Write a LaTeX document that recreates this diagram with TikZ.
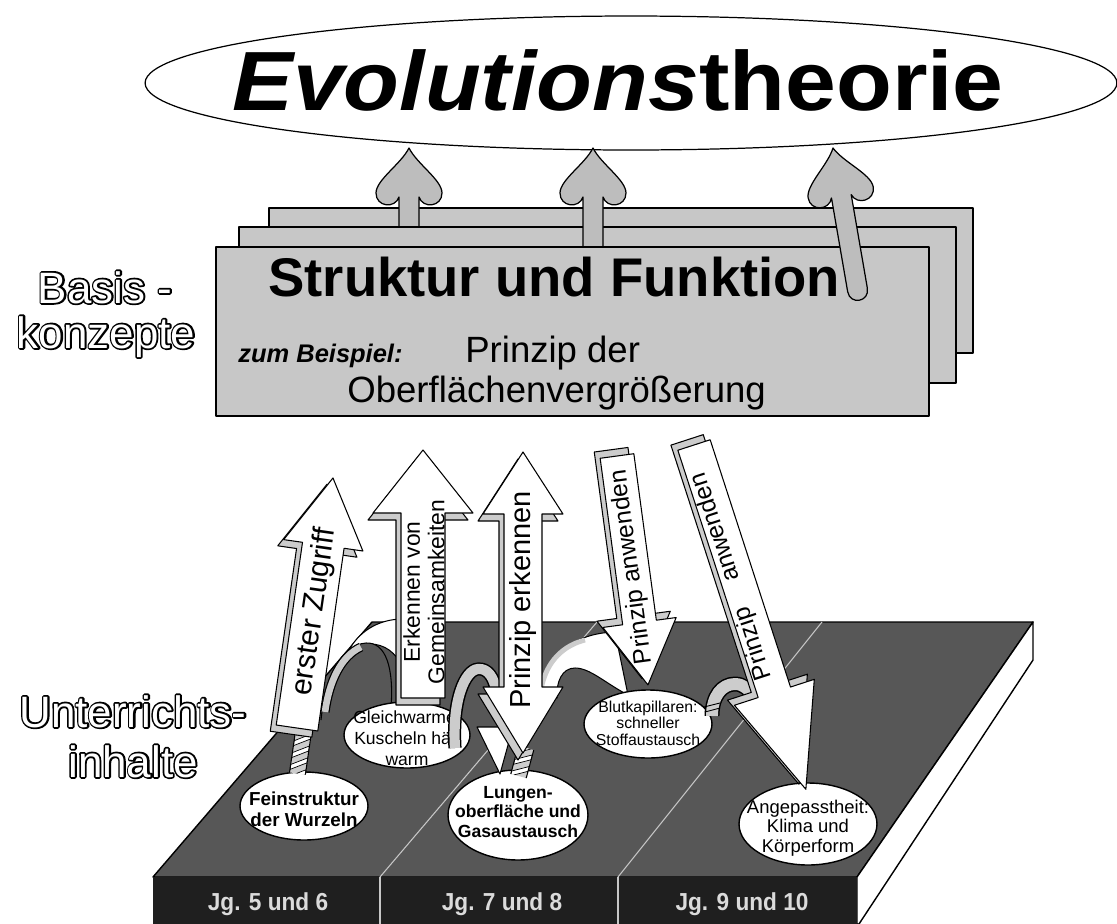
\documentclass[tikz,border=0pt]{standalone}
\usepackage{fontspec}
\setmainfont{Liberation Sans}
\newfontfamily\fatf{Liberation Sans}[FakeBold=8]
\usetikzlibrary{shapes.geometric}
\definecolor{plat}{gray}{0.34}
\definecolor{frontc}{gray}{0.12}
\definecolor{boxg}{gray}{0.78}
\definecolor{bevel}{gray}{0.80}
\definecolor{upg}{gray}{0.74}
\definecolor{jgc}{gray}{0.86}
\definecolor{divl}{gray}{0.78}
\tikzset{
  bevelc/.style={fill=bevel, draw=black, line width=0.6pt, line join=round},
  facec/.style={fill=white, draw=black, line width=0.6pt, line join=round},
  upfill/.style={fill=upg, draw=black, line width=0.7pt, line join=round},
  boxst/.style={draw=black, fill=boxg, line width=1.1pt, anchor=north west, inner sep=0pt},
  bub/.style={ellipse, draw=black, fill=white, line width=0.8pt, inner sep=0pt},
  labblack/.style={font=\fontsize{25}{28}\fatf, text=black, inner sep=0pt, anchor=base},
  labwhite/.style={font=\fontsize{25}{28}\selectfont, text=white, inner sep=0pt, anchor=base},
  jg/.style={text=jgc, font=\fontsize{14}{16}\selectfont\bfseries, inner sep=0pt, anchor=base},
  arrowshape/.style n args={4}{insert path={(-#4,0) -- (-#4,-#1+#2) -- (-#3,-#1+#2) -- (0,-#1) -- (#3,-#1+#2) -- (#4,-#1+#2) -- (#4,0) -- cycle}},
  heart/.style={insert path={(0,0) .. controls (-8,16) and (-33,32) .. (-33,45) .. controls (-33,59) and (-14,61) .. (-10,49) -- (-10,#1) -- (10,#1) -- (10,49) .. controls (14,61) and (33,59) .. (33,45) .. controls (33,32) and (8,16) .. (0,0) -- cycle}},
  heartr/.style={insert path={(0,0) .. controls (-8,16) and (-33,32) .. (-33,45) .. controls (-33,59) and (-14,61) .. (-10,49) -- (-10,#1) .. controls (-10,#1+14) and (10,#1+14) .. (10,#1) -- (10,49) .. controls (14,61) and (33,59) .. (33,45) .. controls (33,32) and (8,16) .. (0,0) -- cycle}},
}
\newcommand{\outlinelabel}[3]{% name, position, text
  \node[labblack] (#1b) at (#2) {#3};
  \node[labwhite] (#1) at (#2) {#3};
}
\newcommand{\stripetail}[2]{% #1 half width, #2 length (local frame)
  \fill[bevel] (-#1,0) rectangle (#1,#2);
  \begin{scope}
    \clip (-#1,0) rectangle (#1,#2);
    \foreach \k in {2,14,26,38,50}
      \draw[fill=white, line width=0.4pt] (-#1,\k) -- (#1,\k-9) -- (#1,\k-4) -- (-#1,\k+5) -- cycle;
  \end{scope}
  \draw[line width=0.6pt] (-#1,0) -- (-#1,#2) (#1,0) -- (#1,#2);
}
\begin{document}
\begin{tikzpicture}[x=0.02cm, y=-0.02cm, line join=round]
\useasboundingbox (0,0) rectangle (1117,924);
\fill[white] (0,0) rectangle (1117,924);

% ---------- top ellipse ----------
\node[ellipse, draw=black, line width=0.7pt, fill=white, minimum width=19.44cm, minimum height=2.68cm, inner sep=0pt] (evo) at (631,83) {};
\node[font=\fontsize{52}{56}\selectfont\bfseries, inner sep=0pt] (evot) at (618,80) {\scalebox{1}[0.92]{\textit{Evolutions}theorie}};

% ---------- stacked boxes with arrows ----------
\node[boxst, minimum width=14.08cm, minimum height=2.9cm] (back) at (268,207) {};
\path[shift={(409,148)}, upfill, heart=80];
\node[boxst, minimum width=14.34cm, minimum height=3.12cm] (mid) at (238,226) {};
\path[shift={(593,148)}, upfill, heart=100];
\node[boxst, minimum width=14.26cm, minimum height=3.38cm] (front) at (215,246) {};
\node[anchor=base west, inner sep=0pt, font=\fontsize{31}{35}\selectfont\bfseries] (sf) at (268,296) {Struktur und Funktion};
\node[anchor=base west, inner sep=0pt, font=\fontsize{14.5}{16}\selectfont\bfseries\itshape] (zb) at (238,362) {zum Beispiel:};
\node[anchor=base west, inner sep=0pt, font=\fontsize{20.8}{24}\selectfont] (pd) at (465,362) {Prinzip der};
\node[anchor=base west, inner sep=0pt, font=\fontsize{20.8}{24}\selectfont] (ov) at (347,402) {Oberflächenvergrößerung};
\path[shift={(833,148)}, rotate=9.8, upfill, heartr=144];

% ---------- left labels (hollow letters) ----------
\outlinelabel{basis}{105,303}{Basis -}
\outlinelabel{konz}{106,348}{konzepte}
\outlinelabel{unter}{133,727}{Unterrichts-}
\outlinelabel{inh}{133,777}{inhalte}

% ---------- platform ----------
\draw[fill=plat, line width=0.8pt] (372,622) -- (1033,622) -- (857,877) -- (153,877) -- cycle;
\draw[fill=white, line width=0.8pt] (857,877) -- (1033,622) -- (1033,660) -- (859,924) -- (857,924) -- cycle;
\fill[frontc] (153,877) rectangle (857,924);
\draw[divl, line width=0.6pt] (380,877) -- (380,924) (618,877) -- (618,924);
\draw[divl, line width=0.6pt] (380,877) -- (597,622) (618,877) -- (822,622);
\node[jg] (jg1) at (268,910) {\scalebox{0.92}[1]{Jg. 5 und 6}};
\node[jg] (jg2) at (502,910) {\scalebox{0.92}[1]{Jg. 7 und 8}};
\node[jg] (jg3) at (742,910) {\scalebox{0.92}[1]{Jg. 9 und 10}};

% ---------- curled ribbon 1 (dome with white crest) ----------
\draw[facec] (348,652) .. controls (358,632) and (378,619) .. (403,619) -- (403,668) .. controls (396,652) and (384,644) .. (370,644) .. controls (361,644) and (354,647) .. cycle;
\fill[plat] (321,720) .. controls (325,680) and (340,645) .. (366,643) .. controls (386,642) and (394,668) .. (391,708) -- cycle;
\draw[line width=0.6pt] (321,720) .. controls (325,680) and (340,645) .. (366,643) .. controls (386,642) and (394,668) .. (391,708);
\draw[line width=5.2pt] (325,712) .. controls (329,682) and (341,656) .. (361,647);
\draw[bevel, line width=3.8pt] (325,712) .. controls (329,682) and (341,656) .. (361,647);
% ---------- curled ribbon 3 (white arch) ----------
\draw[facec] (538,698) .. controls (544,655) and (575,633) .. (615,632) -- (628,695) .. controls (605,683) and (590,668) .. (575,668) .. controls (562,668) and (556,682) .. (557,698) -- cycle;
\draw[bevel, line width=2.8pt] (541,690) .. controls (546,660) and (565,645) .. (585,640);

% ---------- content ellipses ----------
\node[bub, minimum width=2.56cm, minimum height=1.36cm] (fein) at (304,806) {};
\node[font=\fontsize{10.7}{12}\selectfont\bfseries, align=center] (feint) at (304,809) {Feinstruktur\\der Wurzeln};
\node[bub, minimum width=2.52cm, minimum height=1.32cm] (gleich) at (407,735) {};
\node[font=\fontsize{10}{12}\selectfont, align=center] (gleicht) at (407,738) {Gleichwarme:\\Kuscheln hält\\warm};
\node[bub, minimum width=2.8cm, minimum height=1.8cm] (lungen) at (518,815) {};
\node[font=\fontsize{10}{11.3}\selectfont\bfseries, align=center] (lungent) at (518,812) {Lungen-\\oberfläche und\\Gasaustausch};
\node[bub, minimum width=2.56cm, minimum height=1.36cm] (blut) at (648,724) {};
\node[font=\fontsize{9}{9.4}\selectfont, align=center] (blutt) at (648,723) {Blutkapillaren:\\schneller\\Stoffaustausch};
\node[bub, minimum width=2.76cm, minimum height=1.64cm] (angep) at (808,824) {};
\node[font=\fontsize{10.5}{11}\selectfont, align=center] (angept) at (808,828) {Angepasstheit:\\Klima und\\Körperform};

% ---------- small curls ----------
\draw[black, line width=7.5pt] (455,748) .. controls (452,700) and (465,670) .. (478,669) .. controls (488,668) and (494,678) .. (496,690);
\draw[bevel, line width=5.8pt] (455,748) .. controls (452,700) and (465,670) .. (478,669) .. controls (488,668) and (494,678) .. (496,690);
\draw[facec] (477,727) -- (513,727) -- (500,774) -- cycle;
\draw[black, line width=8.5pt] (712,716) .. controls (712,696) and (722,684) .. (735,684) .. controls (743,684) and (749,689) .. (753,697);
\draw[bevel, line width=6.8pt] (712,716) .. controls (712,696) and (722,684) .. (735,684) .. controls (743,684) and (749,689) .. (753,697);
\draw[line width=0.5pt] (704,707) -- (720,703) (705,712) -- (720,708);

% ---------- striped tails ----------
\begin{scope}[shift={(304,728)}, rotate=-8.19]
  \stripetail{8}{46}
\end{scope}
\begin{scope}[shift={(526,748)}, rotate=-15]
  \stripetail{8}{29}
\end{scope}

% ---------- big arrows ----------
% A: erster Zugriff
\begin{scope}[shift={(297,728)}, rotate=-8.19]
  \path[shift={(-5,7)}, bevelc, arrowshape={252.6}{68}{40}{21}];
  \path[facec, arrowshape={252.6}{68}{40}{21}];
\end{scope}
\node[rotate=81.81, font=\fontsize{17}{19}\selectfont] (ta) at (315,612) {erster Zugriff};
% B: Erkennen von Gemeinsamkeiten
\begin{scope}[shift={(423,698)}]
  \path[shift={(-5,7)}, bevelc, arrowshape={248}{63}{50}{22}];
  \path[facec, arrowshape={248}{63}{50}{22}];
\end{scope}
\node[rotate=90, align=center, font=\fontsize{13}{14}\selectfont] (tb) at (424,592) {Erkennen von\\Gemeinsamkeiten};
% C: Prinzip erkennen (double)
\draw[bevelc, shift={(-5,7)}] (523,452) -- (563,514) -- (542,514) -- (542,687) -- (563,687) -- (523,753) -- (483,687) -- (504,687) -- (504,514) -- (483,514) -- cycle;
\draw[facec] (523,452) -- (563,514) -- (542,514) -- (542,687) -- (563,687) -- (523,753) -- (483,687) -- (504,687) -- (504,514) -- (483,514) -- cycle;
\node[rotate=90, font=\fontsize{16.5}{18}\selectfont] (tc) at (523,600) {Prinzip erkennen};
% D: Prinzip anwenden
\begin{scope}[shift={(617,456)}, rotate=187.7]
  \path[shift={(5,7)}, bevelc, arrowshape={231}{63}{37}{17}];
  \path[facec, arrowshape={231}{63}{37}{17}];
\end{scope}
\node[rotate=97.7, font=\fontsize{14}{16}\selectfont] (td) at (632,567) {Prinzip anwenden};
% E: Prinzip anwenden (long)
\begin{scope}[shift={(694,445)}, rotate=198]
  \path[shift={(5,7)}, bevelc, arrowshape={362}{102}{42}{17}];
  \path[facec, arrowshape={362}{102}{42}{17}];
\end{scope}
\node[rotate=108, font=\fontsize{14}{16}\selectfont] (te) at (732,576) {Prinzip\hspace{16pt}anwenden};
\end{tikzpicture}
\end{document}
